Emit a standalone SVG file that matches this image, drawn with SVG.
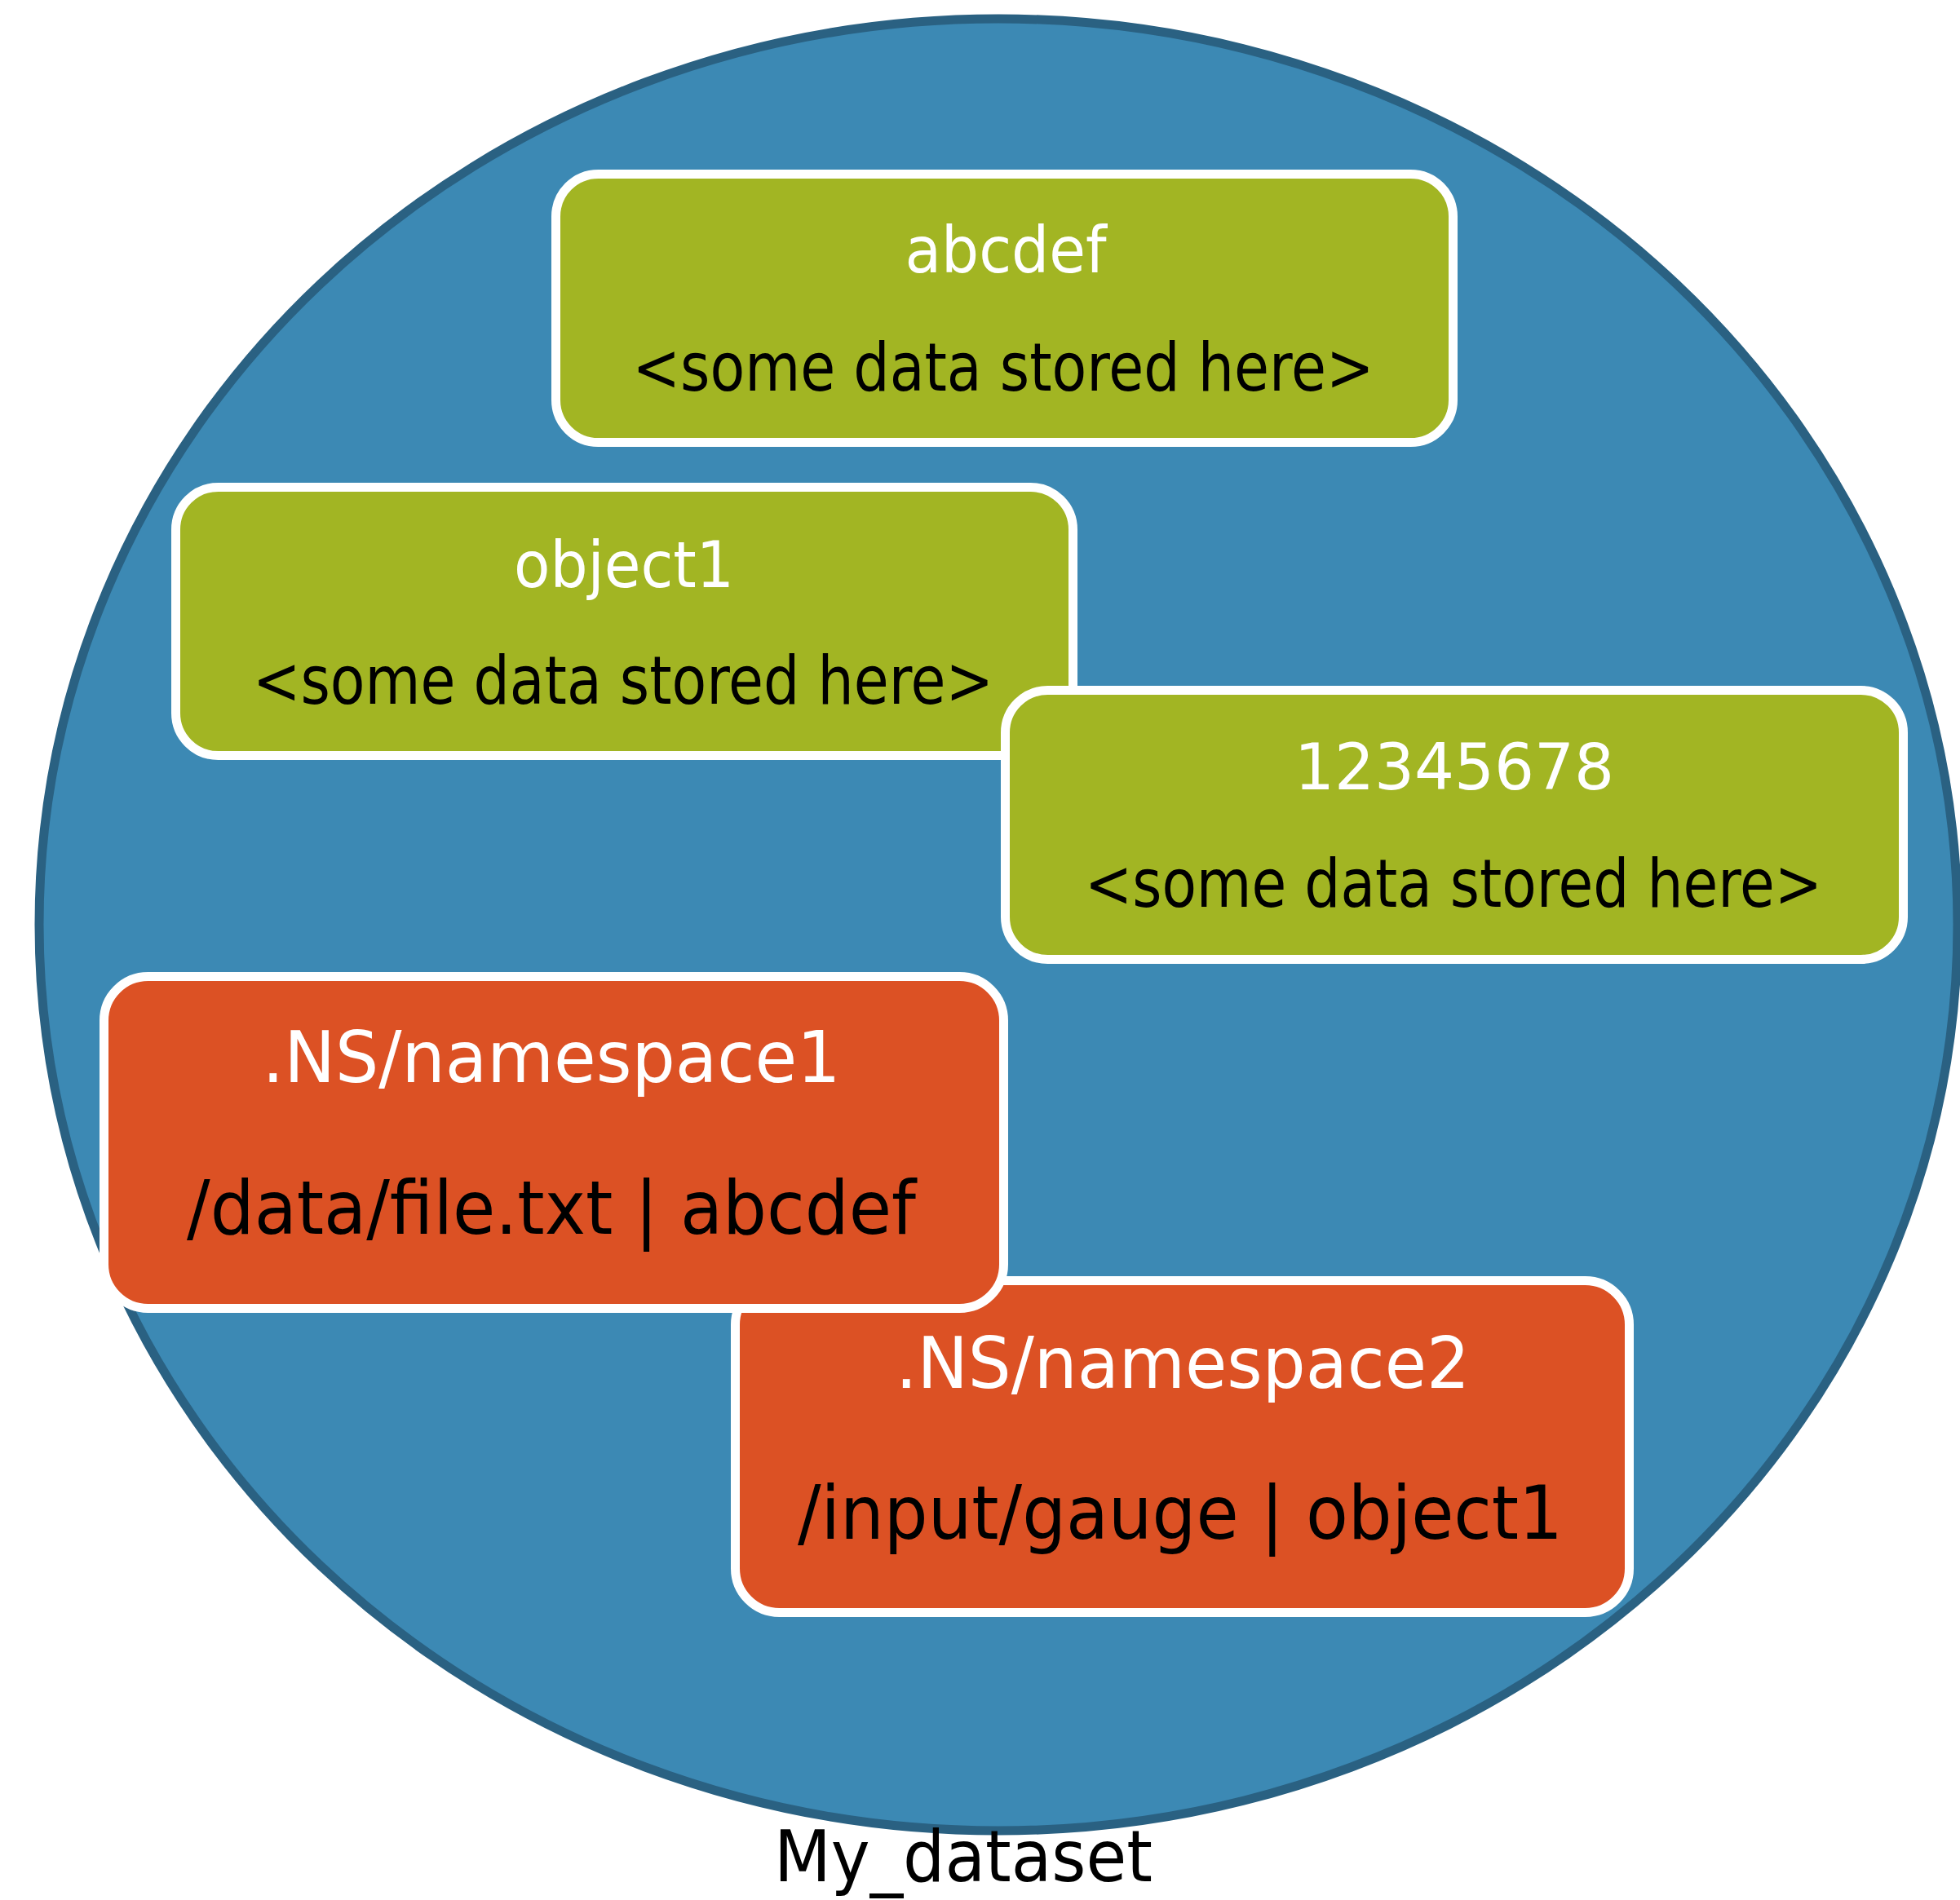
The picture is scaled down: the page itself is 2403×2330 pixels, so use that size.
<svg xmlns="http://www.w3.org/2000/svg" width="2403" height="2330" viewBox="0 0 2403 2330">
  <style>
    .box { stroke: #ffffff; stroke-width: 11; }
    .key { fill: #a2b523; }
    .ns { fill: #dc5124; }
    text { font-family: "DejaVu Sans Condensed", "DejaVu Sans", "Liberation Sans", sans-serif; font-stretch: condensed; text-anchor: middle; }
    .title { fill: #ffffff; font-size: 79px; }
    .data { fill: #000000; font-size: 82px; }
    .nstitle { fill: #ffffff; font-size: 88px; }
    .nsdata { fill: #000000; font-size: 90px; }
  </style>
  <rect width="2403" height="2330" fill="#ffffff"/>

  <!-- dataset container -->
  <g id="dataset">
    <ellipse cx="1224" cy="1134" rx="1176" ry="1111" fill="#3c89b4" stroke="#2a6182" stroke-width="11"/>
  </g>

  <!-- stored objects -->
  <g id="obj-abcdef">
    <rect class="box key" x="681.5" y="213.5" width="1100" height="329" rx="52"/>
    <text class="title" x="1233" y="334" textLength="247" lengthAdjust="spacingAndGlyphs">abcdef</text>
    <text class="data" x="1230" y="479" textLength="909" lengthAdjust="spacingAndGlyphs">&lt;some data stored here&gt;</text>
  </g>

  <g id="obj-object1">
    <rect class="box key" x="215.5" y="597.5" width="1100" height="329" rx="52"/>
    <text class="title" x="765" y="720" textLength="270" lengthAdjust="spacingAndGlyphs">object1</text>
    <text class="data" x="764" y="863" textLength="908" lengthAdjust="spacingAndGlyphs">&lt;some data stored here&gt;</text>
  </g>

  <g id="obj-12345678">
    <rect class="box key" x="1232.5" y="846.5" width="1101" height="330" rx="52"/>
    <text class="title" x="1783" y="968" textLength="392" lengthAdjust="spacingAndGlyphs">12345678</text>
    <text class="data" x="1782" y="1112" textLength="904" lengthAdjust="spacingAndGlyphs">&lt;some data stored here&gt;</text>
  </g>

  <!-- namespaces -->
  <g id="ns-namespace2">
    <rect class="box ns" x="901.5" y="1570.5" width="1096" height="407" rx="54"/>
    <text class="nstitle" x="1450" y="1702" textLength="704" lengthAdjust="spacingAndGlyphs">.NS/namespace2</text>
    <text class="nsdata" x="1447" y="1887" textLength="938" lengthAdjust="spacingAndGlyphs">/input/gauge | object1</text>
  </g>

  <g id="ns-namespace1">
    <rect class="box ns" x="127.5" y="1197.5" width="1103" height="407" rx="54"/>
    <text class="nstitle" x="676" y="1327" textLength="709" lengthAdjust="spacingAndGlyphs">.NS/namespace1</text>
    <text class="nsdata" x="676" y="1513" textLength="894" lengthAdjust="spacingAndGlyphs">/data/file.txt | abcdef</text>
  </g>

  <!-- container caption -->
  <g id="dataset-label">
    <text x="1181" y="2307" font-size="88" fill="#000000" textLength="464" lengthAdjust="spacingAndGlyphs">My_dataset</text>
  </g>
</svg>
